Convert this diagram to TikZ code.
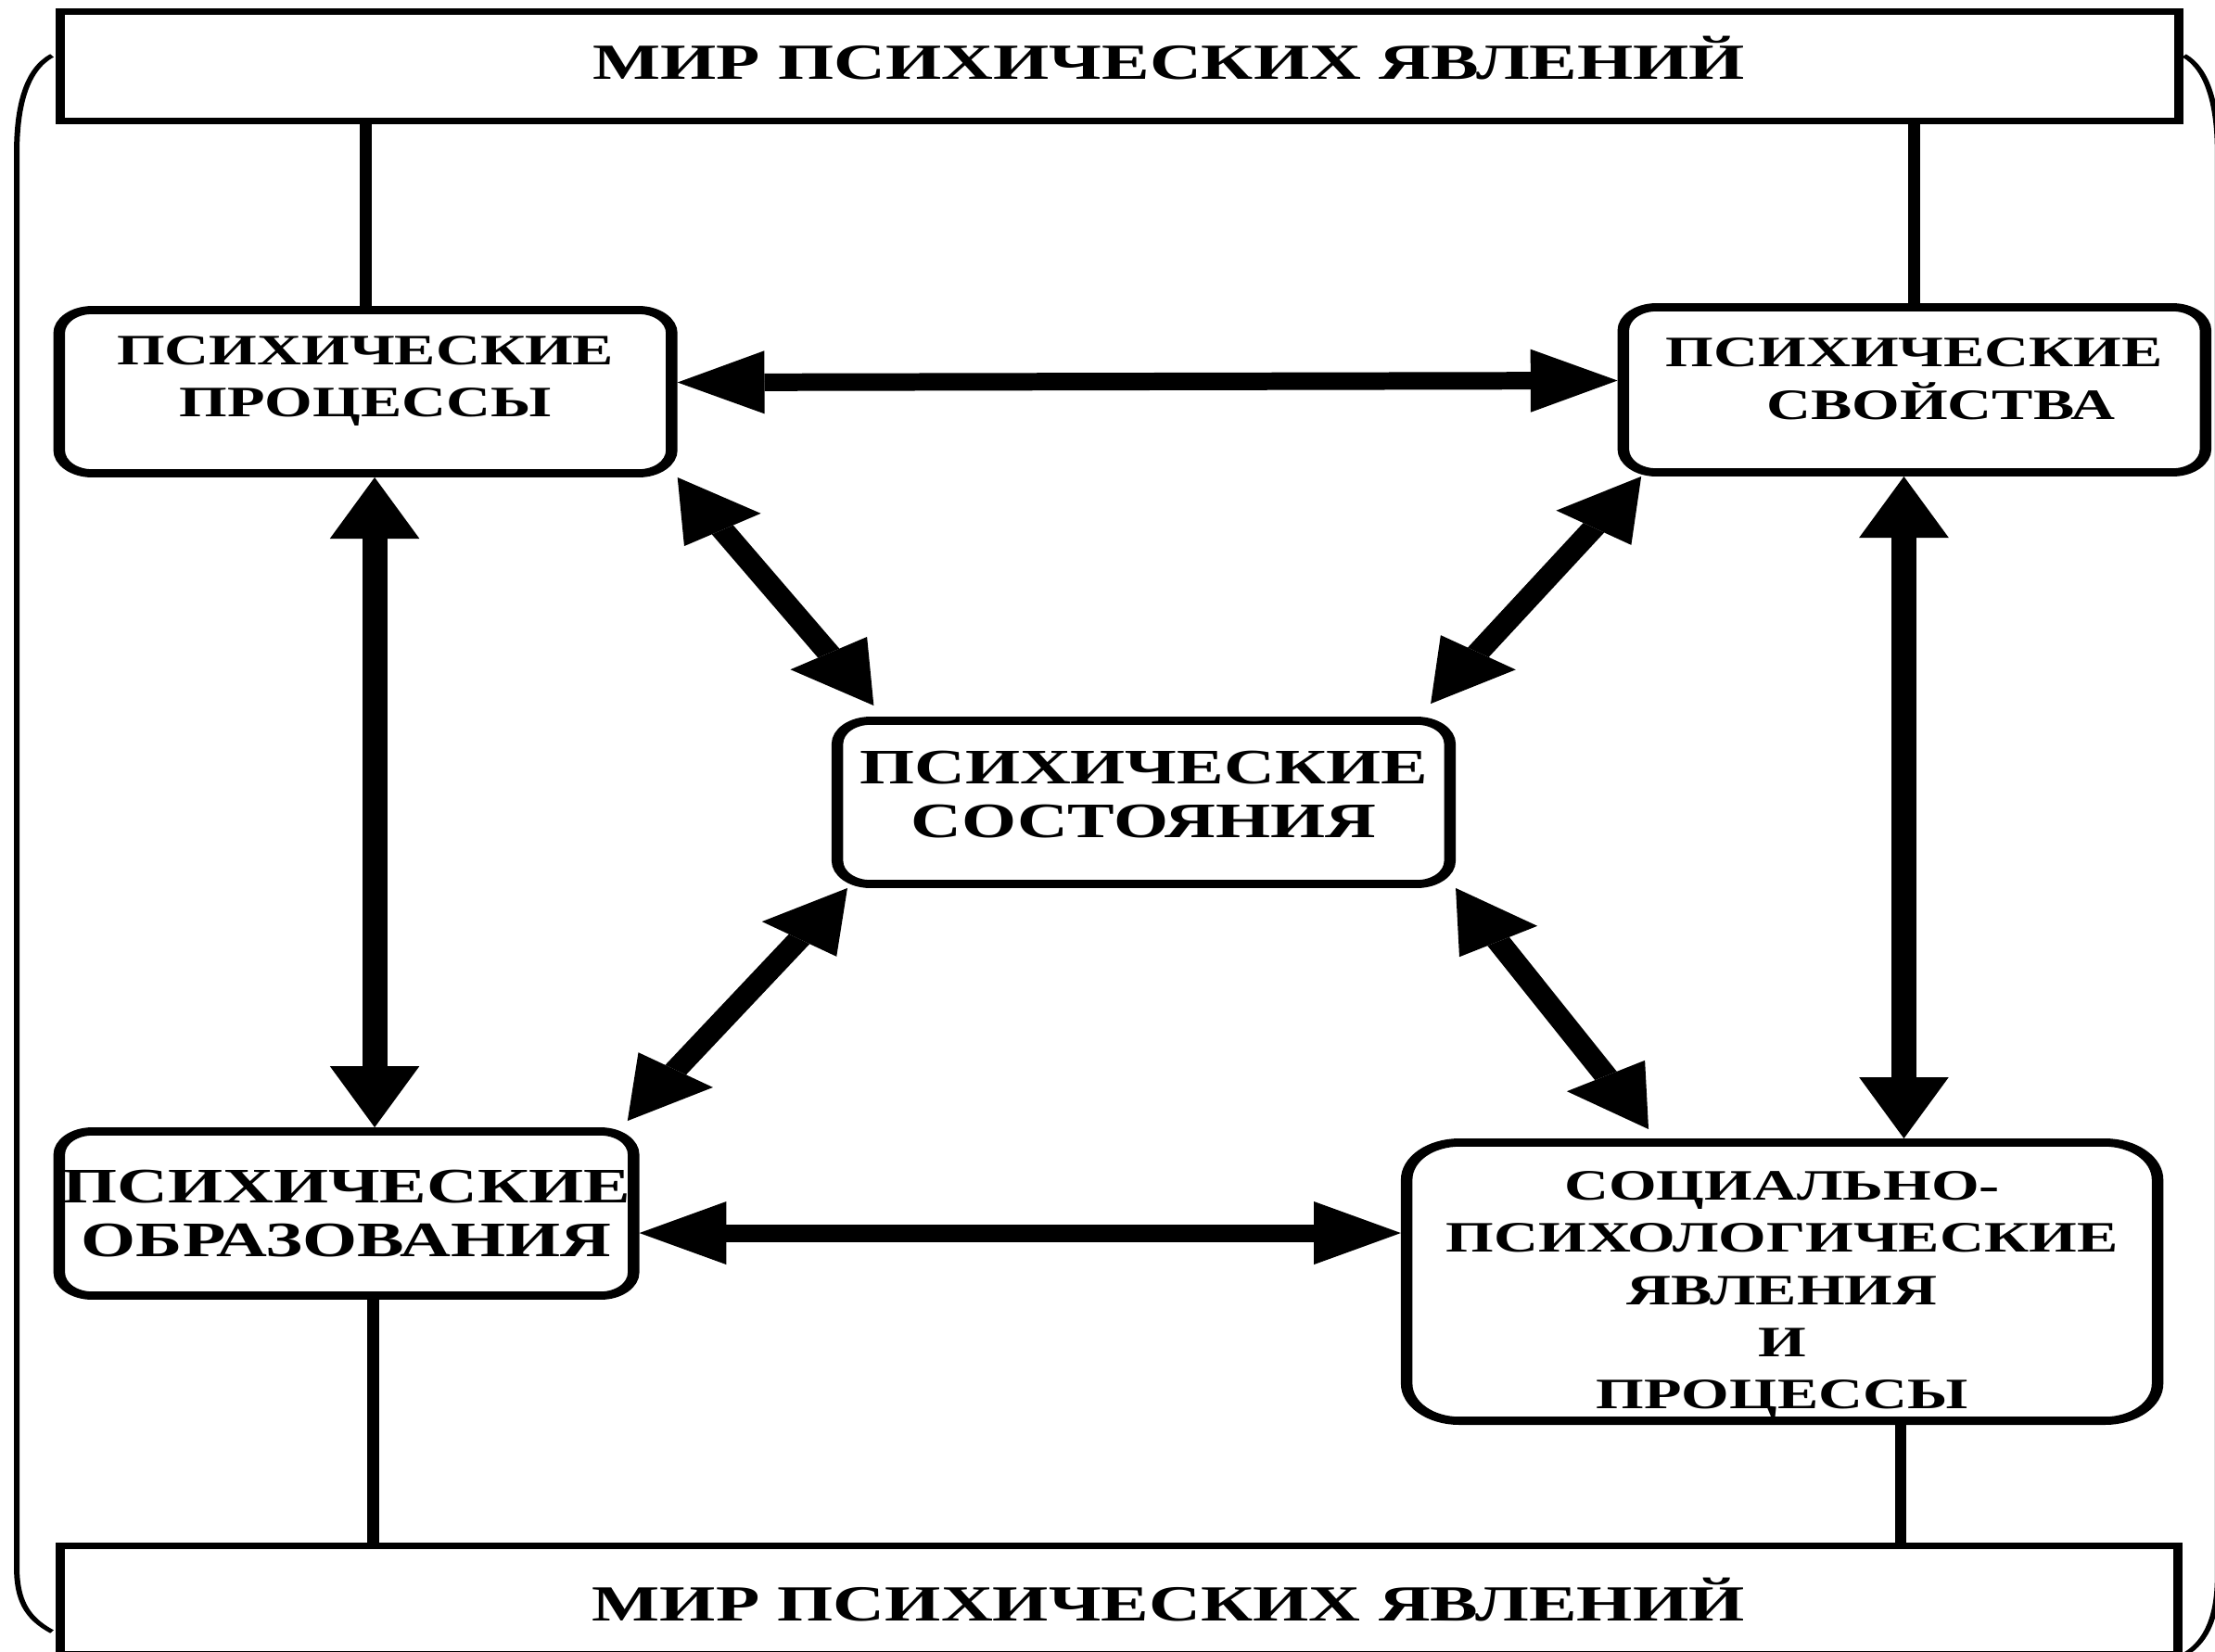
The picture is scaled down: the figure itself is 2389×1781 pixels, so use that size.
\documentclass[tikz,border=0pt]{standalone}
\usepackage{fontspec}
\setmainfont{Liberation Serif}
\usetikzlibrary{arrows.meta}
\newcommand{\worldtxt}{\fontsize{15.5}{17}\selectfont\bfseries}
\newcommand{\bigtxt}{\fontsize{15.2}{16.5}\selectfont\bfseries}
\newcommand{\smalltxt}{\fontsize{13.3}{16}\selectfont\bfseries}
\tikzset{
  world/.style={draw, line width=2pt, minimum width=16.08cm, minimum height=1.17cm, inner sep=0pt, font=\worldtxt},
  phen/.style={draw, line width=2.5pt, rounded corners=0.25cm, align=center, inner sep=0pt},
  link/.style={line width=2.6pt},
  bracket/.style={line width=1.2pt},
  dbl/.style={line width=5.4pt, {Triangle[length=6.6mm,width=6.8mm,line width=0pt]}-{Triangle[length=6.6mm,width=6.8mm,line width=0pt]}}
}
\begin{document}
\begin{tikzpicture}[x=0.01cm, y=-0.01cm]
  \useasboundingbox (0,0) rectangle (2389,1781);
  \begin{scope}[transform canvas={xscale=1.42}, x=0.0070423cm]
    \node[world, text depth=1.8mm] (top) at (1205.5,71.5) {\hspace*{7.5mm}МИР ПСИХИЧЕСКИХ ЯВЛЕНИЙ};
    \node[world] (bot) at (1205,1726) {\hspace*{7.5mm}МИР ПСИХИЧЕСКИХ ЯВЛЕНИЙ};
    \node[phen, minimum width=4.65cm, minimum height=1.76cm, text depth=3.3mm, font=\smalltxt] (pp) at (393.5,422.5) {ПСИХИЧЕСКИЕ\\ПРОЦЕССЫ};
    \node[phen, minimum width=4.42cm, minimum height=1.78cm, text depth=2.4mm, font=\smalltxt] (ps) at (2061.5,420.5) {ПСИХИЧЕСКИЕ\\\hspace*{4mm}СВОЙСТВА};
    \node[phen, minimum width=4.65cm, minimum height=1.76cm, text depth=1.8mm, font=\bigtxt] (st) at (1231.5,865.5) {ПСИХИЧЕСКИЕ\\СОСТОЯНИЯ};
    \node[phen, minimum width=4.36cm, minimum height=1.77cm, font=\bigtxt] (po) at (373,1309) {ПСИХИЧЕСКИЕ\\ОБРАЗОВАНИЯ};
    \node[phen, minimum width=5.70cm, minimum height=3.00cm, rounded corners=0.4cm, text height=2.84cm, font=\smalltxt] (sp) at (1919,1382.5) {СОЦИАЛЬНО-\\ПСИХОЛОГИЧЕСКИЕ\\ЯВЛЕНИЯ\\И\\ПРОЦЕССЫ};

    \draw[bracket] (56,60) .. controls (28,75) and (18,115) .. (18,165) -- (18,1690) .. controls (18,1725) and (28,1745) .. (56,1760);
    \draw[bracket] (2352,60) .. controls (2378,75) and (2388,115) .. (2388,165) -- (2388,1700) .. controls (2388,1740) and (2378,1770) .. (2352,1785);

    \draw[link] (pp.north) -- (pp.north |- top.south);
    \draw[link] (ps.north) -- (ps.north |- top.south);
    \draw[link] ([xshift=2mm]po.south) -- ([xshift=2mm]po.south |- bot.north);
    \draw[link] ([xshift=9mm]sp.south) -- ([xshift=9mm]sp.south |- bot.north);

    \begin{scope}[dbl]
      \draw ([yshift=1mm]pp.east) -- ([yshift=1mm]ps.west);
      \draw ([xshift=0.7mm]pp.south) -- ([xshift=0.7mm]pp.south |- po.north);
      \draw ([xshift=-0.8mm]ps.south) -- ([xshift=-0.8mm]ps.south |- sp.north);
      \draw (pp.south east) -- ([shift={(3.2mm,1.2mm)}]st.north west);
      \draw ([xshift=1.8mm]ps.south west) -- ([shift={(-1.9mm,1.4mm)}]st.north east);
      \draw ([xshift=1.2mm]st.south west) -- ([shift={(-0.9mm,0.7mm)}]po.north east);
      \draw (st.south east) -- ([shift={(18.8mm,1mm)}]sp.north west);
      \draw ([yshift=-2.1mm]po.east) -- ([yshift=-2.1mm]po.east -| sp.west);
    \end{scope}
  \end{scope}
\end{tikzpicture}
\end{document}
